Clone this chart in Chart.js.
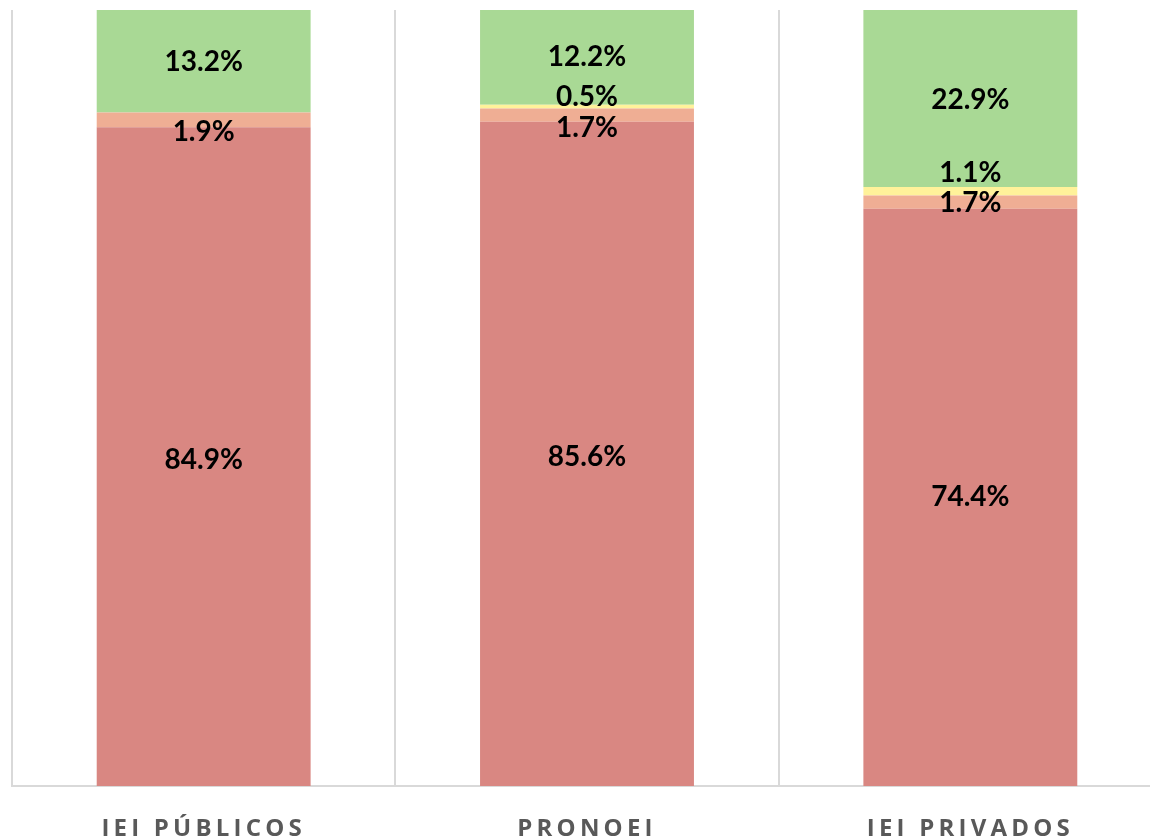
<!DOCTYPE html>
<html>
<head>
<meta charset="utf-8">
<script src="https://cdn.jsdelivr.net/npm/chart.js@4"></script>
<style>
html,body{margin:0;padding:0;overflow:hidden;background:#fff;width:1150px;height:839px;}
canvas{display:block;}
</style>
</head>
<body>
<canvas id="c" width="1175" height="877"></canvas>
<script>
const categories = ["IEI PÚBLICOS", "PRONOEI", "IEI PRIVADOS"];
const seriesRed = [84.9, 85.6, 74.4];
const seriesOrange = [1.9, 1.7, 1.7];
const seriesYellow = [0, 0.5, 1.1];
const seriesGreen = [13.2, 12.2, 22.9];

const labelOffsets = [
  [3, 3, 0],
  [12, 13, 1],
  [0, -10, -18],
  [1, 0, 2]
];

const labelPlugin = {
  id: 'segLabels',
  beforeDraw(chart) { chart.ctx.letterSpacing = '4.2px'; },
  beforeDatasetsDraw(chart) { chart.ctx.letterSpacing = '0px'; },
  afterDatasetsDraw(chart) {
    const ctx = chart.ctx;
    ctx.save();
    ctx.letterSpacing = '0px';
    ctx.font = '700 28px Lato';
    ctx.fillStyle = '#000';
    ctx.textAlign = 'center';
    ctx.textBaseline = 'middle';
    chart.data.datasets.forEach((ds, di) => {
      const meta = chart.getDatasetMeta(di);
      meta.data.forEach((el, i) => {
        const v = ds.data[i];
        if (!v) return;
        const y = (el.y + el.base) / 2 + labelOffsets[di][i];
        ctx.fillText(v.toFixed(1) + '%', el.x, y);
      });
    });
    ctx.restore();
  }
};

function build() {
  new Chart(document.getElementById('c'), {
    type: 'bar',
    data: {
      labels: categories,
      datasets: [
        { label: 'a', data: seriesRed, backgroundColor: '#D98782' },
        { label: 'b', data: seriesOrange, backgroundColor: '#EFAE94' },
        { label: 'c', data: seriesYellow, backgroundColor: '#FFF29A' },
        { label: 'd', data: seriesGreen, backgroundColor: '#A9D995' }
      ]
    },
    options: {
      responsive: false,
      animation: false,
      layout: { padding: { left: 12, right: 13, top: 10, bottom: 5 } },
      plugins: { legend: { display: false }, tooltip: { enabled: false } },
      datasets: { bar: { categoryPercentage: 1, barPercentage: 0.558, borderWidth: 0 } },
      scales: {
        x: {
          stacked: true,
          offset: true,
          grid: { offset: true, color: '#d9d9d9', lineWidth: 2, drawTicks: false },
          border: { color: '#d9d9d9', width: 2 },
          ticks: { color: '#595959', padding: 31, font: { family: '"Open Sans"', size: 24, weight: 'bold', lineHeight: 1 } }
        },
        y: {
          stacked: true,
          display: false,
          min: 0,
          max: 100
        }
      }
    },
    plugins: [labelPlugin]
  });
}

Promise.all([
  document.fonts.load('bold 24px "Open Sans"', 'IEI PÚBLICOS'),
  document.fonts.load('700 28px Lato', '0123456789.%')
]).then(build, build);
</script>
</body>
</html>
